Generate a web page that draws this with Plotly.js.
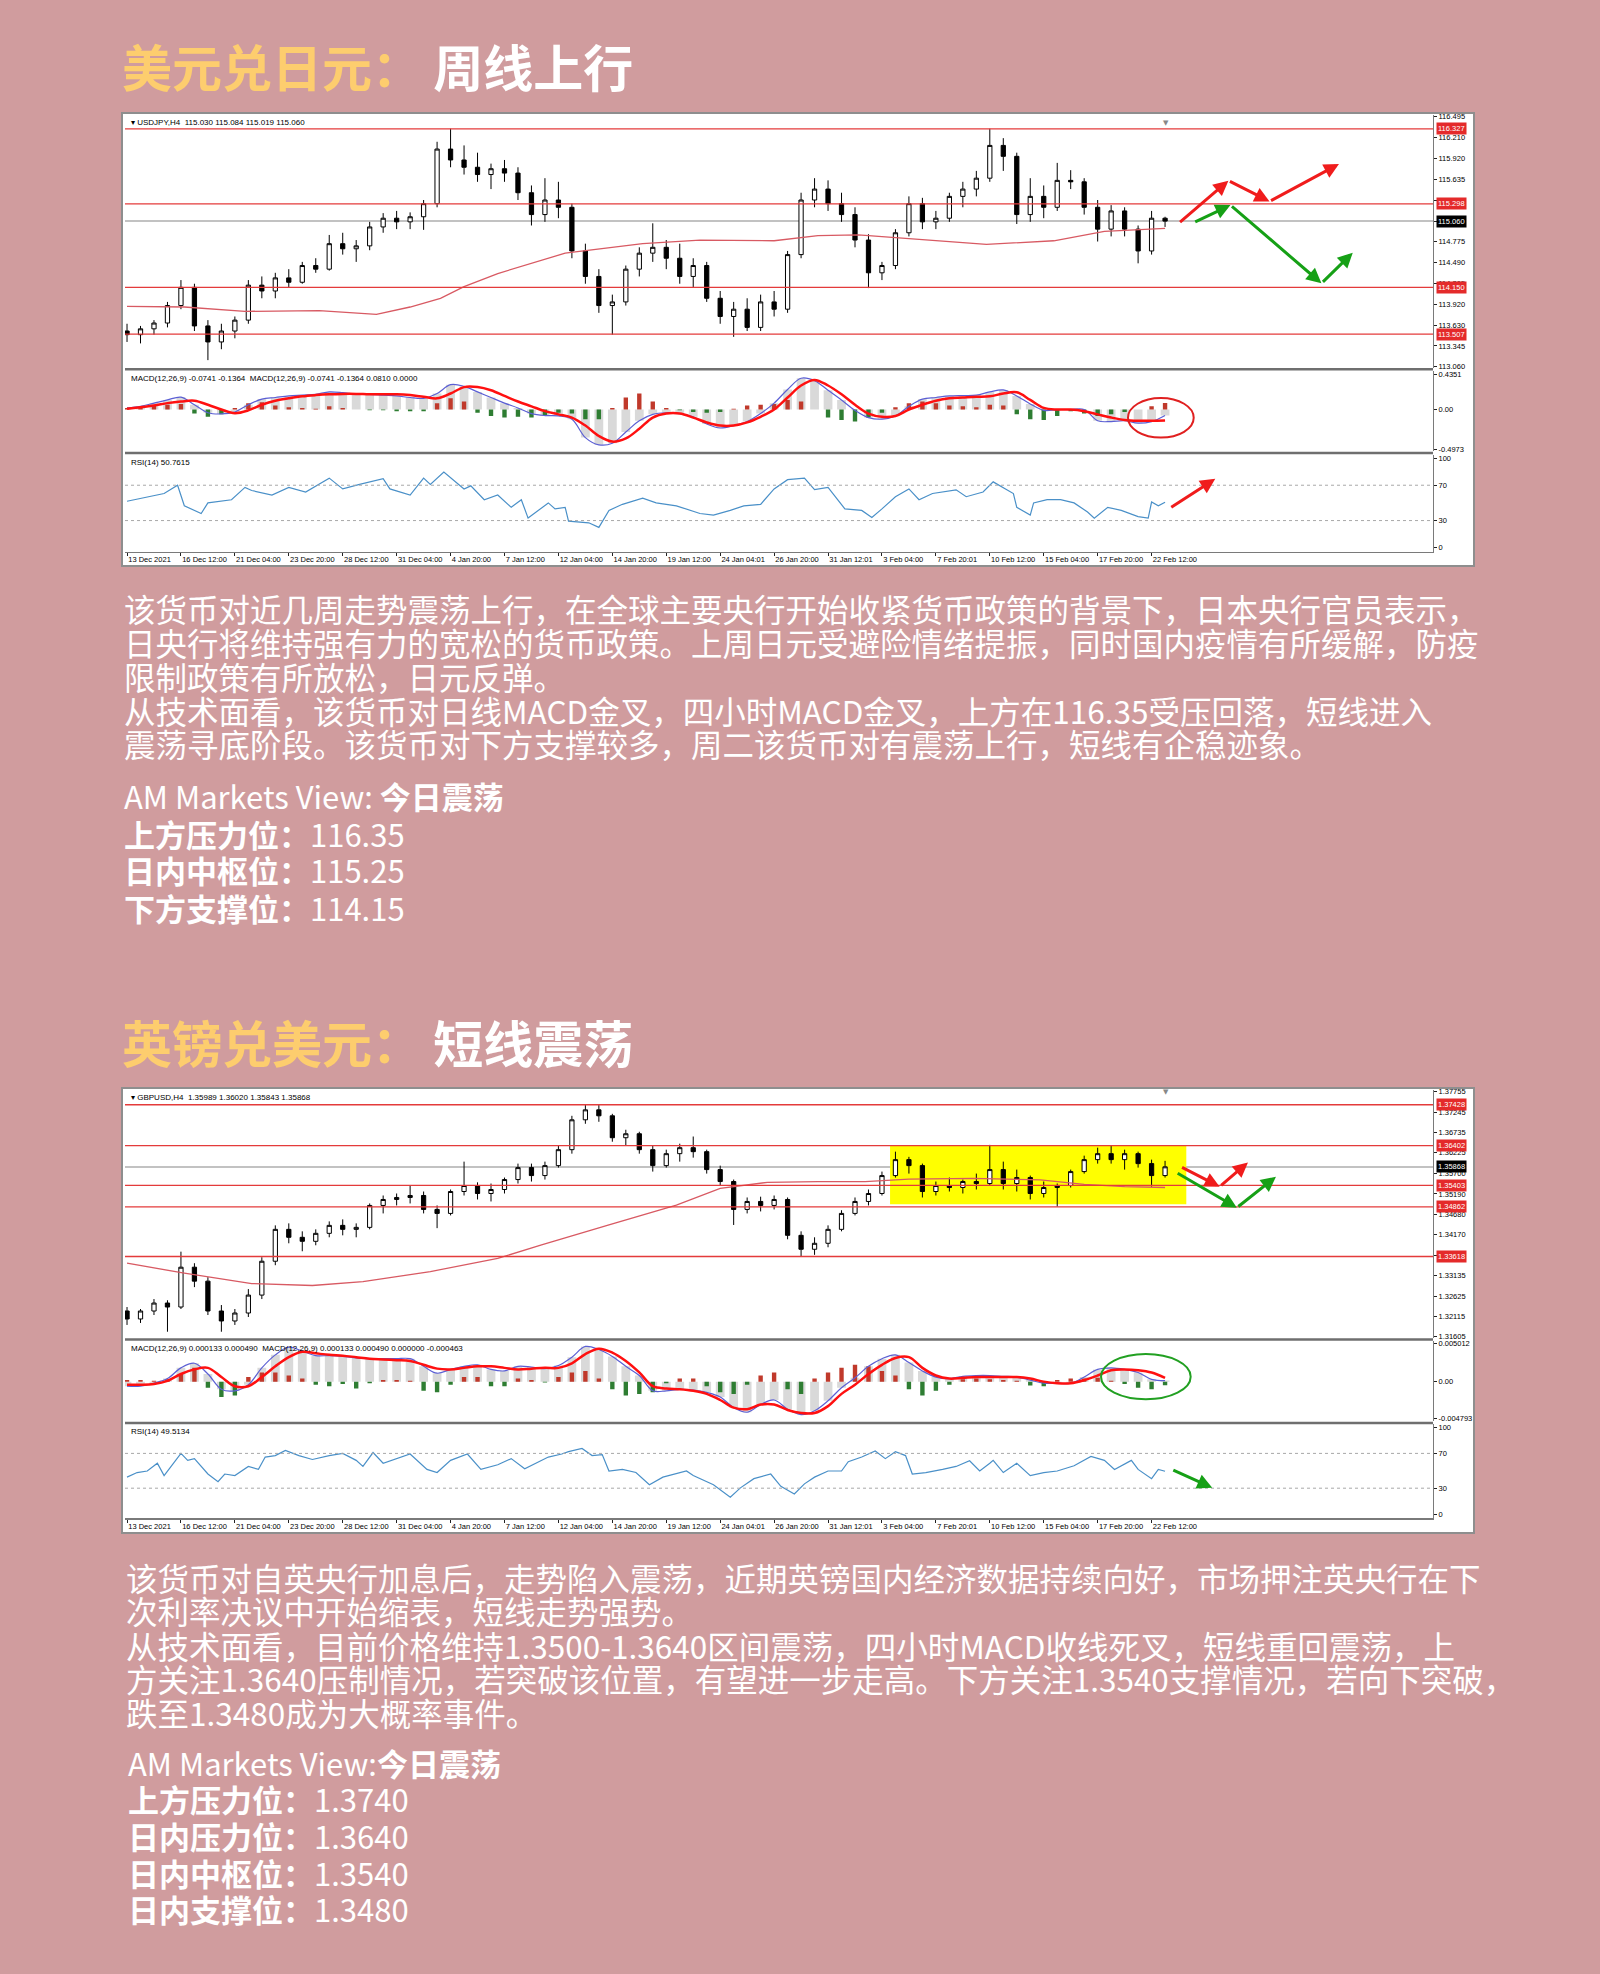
<!DOCTYPE html>
<html><head><meta charset="utf-8">
<script src="https://cdn.plot.ly/plotly-3.0.1.min.js"></script>
<style>html,body{margin:0;padding:0;background:#d09c9e;}</style>
</head><body><div id="chart" style="width:1600px;height:1974px;"></div>
<script>
// ---------------- DATA ----------------
const dateLabels = ['13 Dec 2021','16 Dec 12:00','21 Dec 04:00','23 Dec 20:00','28 Dec 12:00','31 Dec 04:00','4 Jan 20:00','7 Jan 12:00','12 Jan 04:00','14 Jan 20:00','19 Jan 12:00','24 Jan 04:01','26 Jan 20:00','31 Jan 12:01','3 Feb 04:00','7 Feb 20:01','10 Feb 12:00','15 Feb 04:00','17 Feb 20:00','22 Feb 12:00'];
const dateBars = [0,16,32,48,64,80,96,112,128,144,160,176,192,208,224,240,256,272,288,304];
const bars = [0,4,8,12,16,20,24,28,32,36,40,44,48,52,56,60,64,68,72,76,80,84,88,92,96,100,104,108,112,116,120,124,128,132,136,140,144,148,152,156,160,164,168,172,176,180,184,188,192,196,200,204,208,212,216,220,224,228,232,236,240,244,248,252,256,260,264,268,272,276,280,284,288,292,296,300,304,308];

// USDJPY H4
const usdOpen = [113.55,113.50,113.58,113.66,113.90,114.15,113.62,113.40,113.55,113.70,114.18,114.10,114.28,114.22,114.45,114.40,114.75,114.68,114.72,114.98,115.10,115.05,115.12,115.30,116.05,115.90,115.80,115.70,115.78,115.72,115.45,115.15,115.35,115.25,114.65,114.30,113.90,113.95,114.40,114.62,114.70,114.55,114.30,114.45,114.00,113.75,113.85,113.60,113.95,113.85,114.60,115.35,115.50,115.30,115.15,114.80,114.35,114.45,114.90,115.30,115.05,115.10,115.40,115.50,115.65,116.10,115.95,115.15,115.40,115.25,115.62,115.60,115.25,114.95,115.20,114.95,114.65,115.10];
const usdHigh = [113.65,113.62,113.70,113.95,114.25,114.20,113.70,113.65,113.75,114.25,114.30,114.35,114.40,114.50,114.55,114.87,114.90,114.80,115.05,115.17,115.20,115.18,115.35,116.15,116.33,116.10,116.00,115.85,115.90,115.80,115.55,115.65,115.60,115.30,114.75,114.40,114.05,114.45,114.70,115.03,114.80,114.75,114.55,114.50,114.10,113.95,114.00,114.05,114.10,114.65,115.45,115.65,115.62,115.45,115.25,114.88,114.50,114.95,115.40,115.38,115.20,115.45,115.60,115.75,116.33,116.20,116.00,115.65,115.55,115.86,115.76,115.65,115.35,115.28,115.25,115.00,115.20,115.12];
const usdLow = [113.40,113.38,113.50,113.60,113.85,113.55,113.15,113.30,113.45,113.65,114.00,114.00,114.15,114.20,114.35,114.38,114.60,114.50,114.66,114.90,114.95,114.95,114.94,115.25,115.80,115.70,115.60,115.50,115.60,115.35,115.00,115.05,115.10,114.55,114.20,113.80,113.50,113.90,114.30,114.50,114.40,114.20,114.15,113.95,113.65,113.47,113.55,113.55,113.75,113.80,114.55,115.25,115.20,115.05,114.70,114.14,114.25,114.40,114.85,114.95,114.95,115.05,115.25,115.40,115.60,115.75,115.02,115.05,115.10,115.20,115.50,115.15,114.78,114.85,114.85,114.48,114.60,114.98];
const usdClose = [113.50,113.58,113.66,113.90,114.15,113.62,113.40,113.55,113.70,114.18,114.10,114.28,114.22,114.45,114.40,114.75,114.68,114.72,114.98,115.10,115.05,115.12,115.30,116.05,115.90,115.80,115.70,115.78,115.72,115.45,115.15,115.35,115.25,114.65,114.30,113.90,113.95,114.40,114.62,114.70,114.55,114.30,114.45,114.00,113.75,113.85,113.60,113.95,113.85,114.60,115.35,115.50,115.30,115.15,114.80,114.35,114.45,114.90,115.30,115.05,115.10,115.40,115.50,115.65,116.10,115.95,115.15,115.40,115.25,115.62,115.60,115.25,114.95,115.20,114.95,114.65,115.10,115.06];
const usdMaBars = [0,17,35,57,74,84,93,100,110,130,153,170,192,205,217,239,255,275,290,308];
const usdMa = [113.89,113.88,113.82,113.83,113.78,113.88,114.00,114.16,114.34,114.62,114.75,114.80,114.79,114.86,114.87,114.80,114.74,114.79,114.92,114.96];
const usdMacd = [0.02,0.04,0.08,0.12,0.155,0.06,-0.04,-0.055,-0.03,0.06,0.13,0.15,0.17,0.18,0.19,0.22,0.21,0.19,0.19,0.18,0.17,0.15,0.14,0.20,0.31,0.29,0.22,0.15,0.08,0.02,-0.05,-0.075,-0.08,-0.12,-0.35,-0.44,-0.42,-0.28,-0.14,-0.06,-0.04,-0.05,-0.09,-0.18,-0.23,-0.20,-0.15,-0.05,0.08,0.25,0.39,0.36,0.24,0.12,-0.01,-0.10,-0.12,-0.08,0.04,0.13,0.15,0.17,0.175,0.18,0.22,0.245,0.17,0.07,-0.01,0.0,0.0,0.0,-0.14,-0.15,-0.14,-0.17,-0.15,-0.074];
const usdSignal = [0.01,0.03,0.05,0.08,0.10,0.11,0.06,0.0,-0.045,-0.01,0.06,0.11,0.14,0.165,0.18,0.19,0.195,0.195,0.19,0.19,0.19,0.18,0.16,0.14,0.20,0.28,0.28,0.24,0.17,0.10,0.04,-0.02,-0.06,-0.10,-0.20,-0.33,-0.40,-0.36,-0.24,-0.10,-0.05,-0.05,-0.10,-0.16,-0.20,-0.20,-0.16,-0.09,0.0,0.15,0.30,0.37,0.30,0.19,0.06,-0.05,-0.09,-0.08,0.0,0.06,0.11,0.14,0.15,0.16,0.165,0.20,0.215,0.12,0.02,0.0,0.0,-0.02,-0.06,-0.10,-0.13,-0.14,-0.14,-0.136];
const usdOsma = [0.02,0.03,0.05,0.06,0.07,-0.05,-0.09,-0.06,0.02,0.08,0.09,0.05,0.03,0.02,0.01,0.04,0.02,0.0,-0.01,-0.01,-0.02,-0.02,-0.02,0.08,0.14,0.10,-0.04,-0.08,-0.10,-0.09,-0.10,-0.07,-0.04,-0.05,-0.12,-0.12,0.02,0.15,0.20,0.10,0.02,-0.01,-0.03,-0.04,-0.03,0.01,0.05,0.06,0.07,0.12,0.10,0.0,-0.10,-0.13,-0.15,-0.10,-0.04,0.03,0.08,0.10,0.08,0.05,0.04,0.03,0.06,0.05,-0.06,-0.12,-0.13,-0.08,-0.02,-0.05,-0.08,-0.06,-0.03,0.0,0.04,0.081];
const usdRsiBars = [0,7,11,15,17,22,24,31,35,37,43,48,53,60,64,69,76,78,84,88,90,94,100,102,106,110,114,117,119,125,127,130,131,137,140,143,147,153,157,163,170,174,179,183,188,192,196,201,204,208,213,218,221,224,228,232,235,239,242,246,249,254,257,260,263,264,268,269,273,277,281,285,287,291,295,300,303,304,306,308];
const usdRsi = [51.9,57,60.6,70,46.7,38,50,53.6,67.6,64,58.9,67.6,62.3,78,65.8,71,77.3,65.8,58.9,78,71,85,65.8,69.3,53.6,58.9,45,53.6,32.8,50,43.2,45,29.3,27.5,22.3,41.5,48.4,55.4,50,46.7,38,36.2,41.5,46.7,48.4,65.8,76.3,78,65,67.6,43.2,41.5,33.5,43.2,57,65.8,53.6,60.6,62.3,64.8,57,62.3,73.8,67.6,60.6,45,36.2,50,53.6,53.6,50,39.7,32.8,45,41.5,34.5,32.8,51,46.7,50.8];
const usdRedLevels = [116.327,115.298,114.150,113.507];
const usdCurrent = 115.060;
const usdPriceTicks = [116.495,116.210,115.920,115.635,115.350,115.060,114.775,114.490,114.205,113.920,113.630,113.345,113.060];
const usdArrowRed = [[312,115.03],[326.8,115.616],[339,115.33],[359.6,115.845]];
const usdArrowGreen = [[316.5,115.04],[327.4,115.28],[354.4,114.206],[363.7,114.627]];
const usdRsiArrow = [[309.4,43.9],[322.9,77.3]];
const usdMacdCircle = [[297,-0.35],[316.5,0.145]];

// GBPUSD H4
const gbpOpen = [1.3225,1.3205,1.3225,1.3245,1.3235,1.3335,1.3300,1.3225,1.3200,1.3220,1.3265,1.3350,1.3430,1.3410,1.3400,1.3420,1.3440,1.3430,1.3435,1.3490,1.3505,1.3510,1.3515,1.3480,1.3470,1.3525,1.3540,1.3520,1.3530,1.3555,1.3585,1.3565,1.3590,1.3630,1.3705,1.3730,1.3715,1.3660,1.3670,1.3630,1.3590,1.3620,1.3635,1.3625,1.3580,1.3550,1.3480,1.3500,1.3490,1.3505,1.3415,1.3380,1.3395,1.3430,1.3470,1.3500,1.3520,1.3565,1.3605,1.3590,1.3525,1.3540,1.3535,1.3550,1.3545,1.3580,1.3545,1.3560,1.3520,1.3535,1.3540,1.3575,1.3605,1.3620,1.3605,1.3620,1.3595,1.3565];
const gbpHigh = [1.3235,1.3230,1.3255,1.3252,1.3374,1.3345,1.3310,1.3240,1.3230,1.3280,1.3360,1.3440,1.3445,1.3425,1.3430,1.3450,1.3455,1.3445,1.3495,1.3515,1.3520,1.3541,1.3525,1.3490,1.3530,1.3600,1.3548,1.3545,1.3560,1.3595,1.3595,1.3600,1.3641,1.3715,1.3742,1.3742,1.3720,1.3680,1.3675,1.3640,1.3630,1.3645,1.3663,1.3630,1.3590,1.3555,1.3510,1.3512,1.3515,1.3510,1.3425,1.3410,1.3440,1.3478,1.3510,1.3530,1.3575,1.3625,1.3612,1.3595,1.3550,1.3560,1.3555,1.3570,1.3642,1.3600,1.3580,1.3565,1.3550,1.3545,1.3580,1.3615,1.3635,1.3640,1.3630,1.3625,1.3605,1.3602];
const gbpLow = [1.3190,1.3195,1.3215,1.3173,1.3230,1.3285,1.3215,1.3173,1.3190,1.3210,1.3255,1.3340,1.3395,1.3375,1.3390,1.3410,1.3415,1.3410,1.3430,1.3470,1.3490,1.3495,1.3470,1.3433,1.3465,1.3515,1.3505,1.3500,1.3520,1.3545,1.3550,1.3555,1.3585,1.3620,1.3695,1.3700,1.3650,1.3640,1.3620,1.3575,1.3585,1.3600,1.3610,1.3570,1.3540,1.3441,1.3470,1.3475,1.3480,1.3405,1.3361,1.3366,1.3385,1.3425,1.3465,1.3490,1.3515,1.3560,1.3570,1.3510,1.3515,1.3525,1.3520,1.3530,1.3540,1.3530,1.3525,1.3505,1.3510,1.3487,1.3535,1.3570,1.3595,1.3595,1.3580,1.3585,1.3537,1.3560];
const gbpClose = [1.3205,1.3225,1.3245,1.3235,1.3335,1.3300,1.3225,1.3200,1.3220,1.3265,1.3350,1.3430,1.3410,1.3400,1.3420,1.3440,1.3430,1.3435,1.3490,1.3505,1.3510,1.3515,1.3480,1.3470,1.3525,1.3540,1.3520,1.3530,1.3555,1.3585,1.3565,1.3590,1.3630,1.3705,1.3730,1.3715,1.3660,1.3670,1.3630,1.3590,1.3620,1.3635,1.3625,1.3580,1.3550,1.3480,1.3500,1.3490,1.3505,1.3415,1.3380,1.3395,1.3430,1.3470,1.3500,1.3520,1.3565,1.3605,1.3590,1.3525,1.3540,1.3535,1.3550,1.3545,1.3580,1.3545,1.3560,1.3520,1.3535,1.3540,1.3575,1.3605,1.3620,1.3605,1.3620,1.3595,1.3565,1.3587];
const gbpMaBars = [0,17,37,55,70,90,110,123,143,163,176,190,205,219,232,251,271,284,296,308];
const gbpMa = [1.3345,1.3320,1.3294,1.3289,1.3299,1.3324,1.3357,1.3391,1.3441,1.3491,1.3533,1.3548,1.3550,1.3550,1.3556,1.3558,1.3554,1.3543,1.3537,1.3535];
const gbpMacd = [-0.0006,-0.0006,-0.0002,0.0004,0.0018,0.0024,0.0010,-0.0010,-0.0012,-0.0004,0.0018,0.0035,0.0045,0.0040,0.0034,0.0034,0.0033,0.0031,0.0030,0.0030,0.0030,0.0030,0.0020,0.0011,0.0016,0.0020,0.0022,0.0016,0.0014,0.0020,0.0019,0.0017,0.0021,0.0032,0.0046,0.0042,0.0033,0.0020,0.0008,-0.0012,-0.0012,-0.0010,-0.0011,-0.0014,-0.0020,-0.0034,-0.0040,-0.0030,-0.0024,-0.0036,-0.0043,-0.0038,-0.0025,-0.0008,0.0005,0.0020,0.0030,0.0035,0.0025,0.0014,0.0006,0.0004,0.0007,0.0008,0.0008,0.0007,0.0006,0.0002,-0.0002,-0.0002,-0.0002,0.0006,0.0016,0.0018,0.0016,0.0012,0.0003,0.000133];
const gbpSignal = [-0.0004,-0.0004,-0.0003,0.0001,0.0010,0.0016,0.0018,0.0006,-0.0006,-0.0006,0.0006,0.0020,0.0032,0.0039,0.0037,0.0035,0.0034,0.0032,0.0030,0.0029,0.0028,0.0027,0.0022,0.0017,0.0016,0.0018,0.0020,0.0020,0.0018,0.0016,0.0017,0.0018,0.0018,0.0024,0.0036,0.0043,0.0038,0.0027,0.0012,-0.0006,-0.0009,-0.0010,-0.0012,-0.0016,-0.0024,-0.0034,-0.0036,-0.0030,-0.0030,-0.0037,-0.0041,-0.0041,-0.0032,-0.0016,-0.0004,0.0010,0.0022,0.0031,0.0032,0.0018,0.0008,0.0004,0.0005,0.0006,0.0006,0.0006,0.0006,0.0004,0.0,-0.0002,-0.0002,0.0002,0.0008,0.0015,0.0016,0.0015,0.0012,0.00049];
const gbpOsma = [0.0002,0.0002,0.0001,0.0003,0.0010,0.0018,-0.0008,-0.0020,-0.0018,0.0006,0.0012,0.0012,0.0008,0.0004,-0.0004,-0.0006,-0.0003,-0.0009,-0.0002,0.0002,0.0002,0.0001,-0.0012,-0.0014,-0.0004,0.0006,0.0006,-0.0006,-0.0006,0.0004,0.0002,-0.0001,0.0006,0.0012,0.0014,0.0004,-0.0010,-0.0018,-0.0016,-0.0014,-0.0002,0.0004,0.0004,-0.0006,-0.0014,-0.0016,-0.0004,0.0008,0.0012,-0.0010,-0.0016,0.0004,0.0012,0.0018,0.0022,0.0020,0.0014,0.0008,-0.0010,-0.0018,-0.0012,-0.0004,0.0003,0.0004,0.0003,0.0002,0.0001,-0.0005,-0.0006,0.0002,0.0004,0.0004,0.0005,0.0001,-0.0003,-0.0008,-0.0010,-0.000463];
const gbpRsiBars = [0,3,6,9,11,13,16,18,20,24,27,29,32,36,39,41,44,47,51,55,60,64,68,70,73,76,80,84,89,92,96,101,105,110,114,118,125,129,131,135,138,141,143,147,151,155,159,166,168,174,179,182,186,191,194,198,201,204,208,212,214,218,222,225,228,231,233,237,242,246,250,253,256,257,260,264,268,272,276,281,286,290,293,298,300,304,306,308];
const gbpRsi = [42.7,48,49.8,58.7,44.5,55,70,62,64,46.3,37.4,46.3,44.5,55,51.6,65.8,67.5,73.5,67.5,63,67.5,70,62,55,71,58.7,64,69.3,51.6,48,62,69.3,51.6,57,64,52.3,65.8,69.3,72,75.7,67.5,68.6,49.8,51.6,48,33.9,42.7,49.8,44.5,33.9,19.7,30.4,41,46.3,32.1,23.3,35,42.7,49.8,49.8,60.4,65.8,72.8,64,72,67.5,46.3,48,51.6,55,61.5,49.8,58.7,62,48,58.7,44.5,48,49.8,55.8,66.5,62,51.6,62,51.6,41,51.6,49.5];
const gbpRedLevels = [1.37428,1.36402,1.35403,1.34862,1.33618];
const gbpCurrent = 1.35868;
const gbpPriceTicks = [1.37755,1.37245,1.36735,1.36225,1.35700,1.35190,1.34680,1.34170,1.33650,1.33135,1.32625,1.32115,1.31605];
const gbpArrowRed = [[312.6,1.35873],[324.2,1.35371],[332.6,1.35981]];
const gbpArrowGreen = [[311.3,1.35730],[329.3,1.34843],[340.9,1.35622]];
const gbpRsiArrow = [[310,51.6],[322,30.4]];
const gbpMacdCircle = [[289,-0.0023],[315.6,0.0036]];
const gbpRangeBox = [[226.4,1.34927],[314.3,1.36416]];

// Texts
const title1Gold = '美元兑日元：', title1White = '周线上行';
const title2Gold = '英镑兑美元：', title2White = '短线震荡';
const para1 = ['该货币对近几周走势震荡上行，在全球主要央行开始收紧货币政策的背景下，日本央行官员表示，',
 '日央行将维持强有力的宽松的货币政策。上周日元受避险情绪提振，同时国内疫情有所缓解，防疫',
 '限制政策有所放松，日元反弹。',
 '从技术面看，该货币对日线MACD金叉，四小时MACD金叉，上方在116.35受压回落，短线进入',
 '震荡寻底阶段。该货币对下方支撑较多，周二该货币对有震荡上行，短线有企稳迹象。'];
const view1 = ['AM Markets View: <b>今日震荡</b>','<b>上方压力位：</b>116.35','<b>日内中枢位：</b>115.25','<b>下方支撑位：</b>114.15'];
const para2 = ['该货币对自英央行加息后，走势陷入震荡，近期英镑国内经济数据持续向好，市场押注英央行在下',
 '次利率决议中开始缩表，短线走势强势。',
 '从技术面看，目前价格维持1.3500-1.3640区间震荡，四小时MACD收线死叉，短线重回震荡，上',
 '方关注1.3640压制情况，若突破该位置，有望进一步走高。下方关注1.3540支撑情况，若向下突破，',
 '跌至1.3480成为大概率事件。'];
const view2 = ['AM Markets View:<b>今日震荡</b>','<b>上方压力位：</b>1.3740','<b>日内压力位：</b>1.3640','<b>日内中枢位：</b>1.3540','<b>日内支撑位：</b>1.3480'];

// ---------------- BUILD ----------------
const W = 1600, H = 1974;
const px = v => v / W, py = v => 1 - v / H;
const traces = [], shapes = [], annotations = [];
const TF = {family:'Liberation Sans, Arial, sans-serif', size:7.5, color:'#000'};
const layout = {
  width:W, height:H, margin:{l:0,r:0,t:0,b:0},
  paper_bgcolor:'#d09c9e', plot_bgcolor:'#ffffff',
  showlegend:false, hovermode:false, barmode:'overlay', boxgap:0.55,
  shapes, annotations
};

function yAxis(anchor, dom, range, vals, texts) {
  return {domain:[py(dom[1]), py(dom[0])], range, anchor, side:'right',
    tickvals:vals, ticktext:texts, ticks:'outside', ticklen:3, tickcolor:'#222',
    tickfont:TF, showgrid:false, zeroline:false, showline:true, linecolor:'#7a7a7a',
    linewidth:1, fixedrange:true};
}

function buildChart(ax, G, D) {
  layout[ax.xk] = {domain:[px(G.plotL), px(G.plotR)], range:[-0.6,387.5], anchor:ax.r,
    tickvals:dateBars, ticktext:dateLabels, ticklabelposition:'outside right',
    ticks:'outside', ticklen:3, tickcolor:'#222', tickfont:TF,
    showgrid:false, zeroline:false, showline:true, linecolor:'#7a7a7a', linewidth:1.5,
    rangeslider:{visible:false}, fixedrange:true};
  layout[ax.yk] = yAxis(ax.x, G.main, G.priceRange, D.ticks, D.ticks.map(v => v.toFixed(D.dec)));
  layout[ax.mk] = yAxis(ax.x, G.macd, G.macdRange, D.macdTicks, D.macdTickText);
  layout[ax.rk] = yAxis(ax.x, G.rsi, G.rsiRange, [100,70,30,0], ['100','70','30','0']);

  // frame
  shapes.push({type:'rect', xref:'paper', yref:'paper', x0:px(G.frame[0]), x1:px(G.frame[2]),
    y0:py(G.frame[3]), y1:py(G.frame[1]), fillcolor:'#ffffff', line:{color:'#8e8e8e', width:2}, layer:'below'});
  // panel separators
  [G.main[1]+1.2, G.macd[1]+2].forEach(s => shapes.push({type:'line', xref:'paper', yref:'paper',
    x0:px(G.plotL), x1:px(G.plotR), y0:py(s), y1:py(s), line:{color:'#6f6f6f', width:2.5}}));
  // current price line
  shapes.push({type:'line', xref:ax.x+' domain', yref:ax.y, x0:0, x1:1, y0:D.current, y1:D.current,
    line:{color:'#c2c2c2', width:2}, layer:'below'});
  // red levels
  D.red.forEach(v => shapes.push({type:'line', xref:ax.x+' domain', yref:ax.y, x0:0, x1:1, y0:v, y1:v,
    line:{color:'#e43b3b', width:1.3}}));
  // RSI levels
  [70,30].forEach(v => shapes.push({type:'line', xref:ax.x+' domain', yref:ax.r, x0:0, x1:1, y0:v, y1:v,
    line:{color:'#a8a8a8', width:1, dash:'dot'}}));
  // range box
  if (D.box) shapes.push({type:'rect', xref:ax.x, yref:ax.y, x0:D.box[0][0], x1:D.box[1][0], y0:D.box[0][1], y1:D.box[1][1],
    fillcolor:'#ffff00', line:{width:0}, layer:'below'});
  // MACD circle
  shapes.push({type:'circle', xref:ax.x, yref:ax.m, x0:D.circle[0][0], x1:D.circle[1][0], y0:D.circle[0][1], y1:D.circle[1][1],
    line:{color:D.circleColor, width:2}});

  // traces
  traces.push({type:'scatter', mode:'lines', x:D.maBars, y:D.ma, xaxis:ax.x, yaxis:ax.y,
    line:{color:'#d85a63', width:1.3}, hoverinfo:'skip'});
  traces.push({type:'candlestick', x:bars, open:D.open, high:D.high, low:D.low, close:D.close,
    xaxis:ax.x, yaxis:ax.y, whiskerwidth:0, hoverinfo:'skip',
    increasing:{line:{color:'#000000', width:1}, fillcolor:'#ffffff'},
    decreasing:{line:{color:'#000000', width:1}, fillcolor:'#000000'}});
  traces.push({type:'bar', x:bars, y:D.macd, width:2.6, xaxis:ax.x, yaxis:ax.m,
    marker:{color:'#d9d9d9'}, hoverinfo:'skip'});
  traces.push({type:'bar', x:bars, y:D.osma, width:1.3, xaxis:ax.x, yaxis:ax.m,
    marker:{color:D.osma.map(v => v >= 0 ? '#c0392b' : '#2e7d32')}, hoverinfo:'skip'});
  traces.push({type:'scatter', mode:'lines', x:bars, y:D.macd, xaxis:ax.x, yaxis:ax.m,
    line:{color:'#5b5fd4', width:1.2, shape:'spline'}, hoverinfo:'skip'});
  traces.push({type:'scatter', mode:'lines', x:bars, y:D.signal, xaxis:ax.x, yaxis:ax.m,
    line:{color:'#ff1010', width:2.5, shape:'spline'}, hoverinfo:'skip'});
  traces.push({type:'scatter', mode:'lines', x:D.rsiBars, y:D.rsi, xaxis:ax.x, yaxis:ax.r,
    line:{color:'#4a90c8', width:1.2}, hoverinfo:'skip'});

  // price labels on axis
  D.red.forEach(v => annotations.push({xref:ax.x+' domain', x:1, xanchor:'left', xshift:3, yref:ax.y, y:v,
    yanchor:'middle', text:v.toFixed(D.dec), showarrow:false, bgcolor:'#e42a2a', borderpad:1,
    font:{family:TF.family, size:7.5, color:'#ffffff'}}));
  annotations.push({xref:ax.x+' domain', x:1, xanchor:'left', xshift:3, yref:ax.y, y:D.current,
    yanchor:'middle', text:D.current.toFixed(D.dec), showarrow:false, bgcolor:'#000000', borderpad:1,
    font:{family:TF.family, size:7.5, color:'#ffffff'}});
  // headers
  [[ax.y, D.head1],[ax.m, D.head2],[ax.r, D.head3]].forEach(h => annotations.push({
    xref:ax.x+' domain', x:0, xanchor:'left', xshift:4, yref:h[0]+' domain', y:1, yanchor:'top', yshift:-1,
    text:h[1], showarrow:false, font:{family:TF.family, size:8, color:'#000'}}));
  // shift marker
  annotations.push({xref:'paper', yref:'paper', x:px(1171), y:py(G.main[0]+2), text:'▼', showarrow:false,
    font:{family:'DejaVu Sans', size:7, color:'#888'}});
  // arrows
  function arrows(path, yref, color) {
    for (let i = 0; i < path.length - 1; i++) {
      annotations.push({xref:ax.x, yref:yref, axref:ax.x, ayref:yref,
        x:path[i+1][0], y:path[i+1][1], ax:path[i][0], ay:path[i][1], text:'',
        showarrow:true, arrowhead:2, arrowsize:1, arrowwidth:3, arrowcolor:color, standoff:0});
    }
  }
  D.arrows.forEach(a => arrows(a.path, a.panel === 'rsi' ? ax.r : ax.y, a.color));
}

buildChart({x:'x', y:'y', m:'y2', r:'y3', xk:'xaxis', yk:'yaxis', mk:'yaxis2', rk:'yaxis3'},
  {frame:[122,113,1474,566], plotL:125, plotR:1433, main:[115,368], macd:[370.5,451], rsi:[455,551.5],
   priceRange:[113.042,116.518], macdRange:[-0.517,0.487], rsiRange:[-5,104.2]},
  {open:usdOpen, high:usdHigh, low:usdLow, close:usdClose, maBars:usdMaBars, ma:usdMa,
   macd:usdMacd, signal:usdSignal, osma:usdOsma, rsiBars:usdRsiBars, rsi:usdRsi,
   red:usdRedLevels, current:usdCurrent, ticks:usdPriceTicks, dec:3,
   macdTicks:[0.4351,0,-0.4973], macdTickText:['0.4351','0.00','-0.4973'],
   circle:usdMacdCircle, circleColor:'#e02020',
   head1:'▾ USDJPY,H4&nbsp; 115.030 115.084 115.019 115.060',
   head2:'MACD(12,26,9) -0.0741 -0.1364&nbsp; MACD(12,26,9) -0.0741 -0.1364 0.0810 0.0000',
   head3:'RSI(14) 50.7615',
   arrows:[{path:usdArrowRed, color:'#f01c1c'},{path:usdArrowGreen, color:'#16a016'},{path:usdRsiArrow, color:'#f01c1c', panel:'rsi'}]});

buildChart({x:'x2', y:'y4', m:'y5', r:'y6', xk:'xaxis2', yk:'yaxis4', mk:'yaxis5', rk:'yaxis6'},
  {frame:[122,1088,1474,1533], plotL:125, plotR:1433, main:[1090,1338.3], macd:[1340.5,1421], rsi:[1424,1518.3],
   priceRange:[1.31565,1.37798], macdRange:[-0.005146,0.005378], rsiRange:[-4.6,103.8]},
  {open:gbpOpen, high:gbpHigh, low:gbpLow, close:gbpClose, maBars:gbpMaBars, ma:gbpMa,
   macd:gbpMacd, signal:gbpSignal, osma:gbpOsma, rsiBars:gbpRsiBars, rsi:gbpRsi,
   red:gbpRedLevels, current:gbpCurrent, ticks:gbpPriceTicks, dec:5, box:gbpRangeBox,
   macdTicks:[0.005012,0,-0.004793], macdTickText:['0.005012','0.00','-0.004793'],
   circle:gbpMacdCircle, circleColor:'#22a022',
   head1:'▾ GBPUSD,H4&nbsp; 1.35989 1.36020 1.35843 1.35868',
   head2:'MACD(12,26,9) 0.000133 0.000490&nbsp; MACD(12,26,9) 0.000133 0.000490 0.000000 -0.000463',
   head3:'RSI(14) 49.5134',
   arrows:[{path:gbpArrowRed, color:'#f01c1c'},{path:gbpArrowGreen, color:'#16a016'},{path:gbpRsiArrow, color:'#16a016', panel:'rsi'}]});

// Page texts
const CJK = 'Noto Sans CJK SC, Noto Sans, sans-serif';
function txt(x, y, text, size) {
  annotations.push({xref:'paper', yref:'paper', x:px(x), y:py(y), xanchor:'left', yanchor:'middle',
    text, showarrow:false, align:'left', font:{family:CJK, size, color:'#ffffff'}});
}
txt(120, 65, '<b><span style="color:#fdcd6e">' + title1Gold + '</span> ' + title1White + '</b>', 50);
txt(120, 1041, '<b><span style="color:#fdcd6e">' + title2Gold + '</span> ' + title2White + '</b>', 50);
const p1y = [608,642,676,710,743];
para1.forEach((t,i) => txt(122, p1y[i], t, 31.5));
const v1y = [795,833,870,907];
view1.forEach((t,i) => txt(122, v1y[i], t, 31));
const p2y = [1577,1610,1645,1678,1712];
para2.forEach((t,i) => txt(124, p2y[i], t, 31.5));
const v2y = [1762,1798,1835,1872,1908];
view2.forEach((t,i) => txt(126, v2y[i], t, 31));

Plotly.newPlot('chart', traces, layout, {displayModeBar:false, staticPlot:true});
</script></body></html>
